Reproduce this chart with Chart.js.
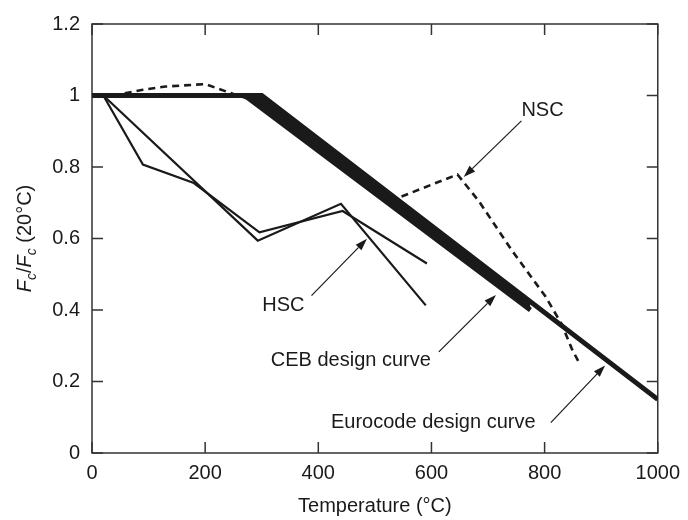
<!DOCTYPE html>
<html>
<head>
<meta charset="utf-8">
<script src="https://cdn.jsdelivr.net/npm/chart.js@4.4.1/dist/chart.umd.min.js"></script>
<style>
    html, body { margin: 0; padding: 0; background: #fff; }
</style>
</head>
<body>
<canvas id="chart" width="688" height="520"></canvas>
<script>
// Relative strength vs temperature
const eurocodeTemp = [0, 300, 1000];
const eurocodeRatio = [1, 1, 0.15];
const cebTemp = [0, 270, 775];
const cebRatio = [1, 1, 0.40];
const nscTemp = [37, 90, 130, 200, 250, 290, 535, 646, 684, 742, 801, 830, 848, 863];
const nscRatio = [1.0, 1.016, 1.025, 1.032, 1.004, 0.985, 0.71, 0.779, 0.704, 0.567, 0.439, 0.361, 0.292, 0.246];
const hscATemp = [20, 90, 180, 296, 443, 592];
const hscARatio = [1.0, 0.807, 0.755, 0.617, 0.677, 0.530];
const hscBTemp = [20, 293, 440, 590];
const hscBRatio = [1.0, 0.594, 0.697, 0.413];

const xTicks = [0, 200, 400, 600, 800, 1000];
const yTicks = [0, 0.2, 0.4, 0.6, 0.8, 1, 1.2];
const yTickLabels = ['0', '0.2', '0.4', '0.6', '0.8', '1', '1.2'];

// callout labels, in data units
const callouts = [
    { text: 'NSC', at: [759, 0.944], align: 'left', from: [759, 0.929], to: [657, 0.772] },
    { text: 'HSC', at: [301, 0.396], align: 'left', from: [388, 0.44], to: [486, 0.599] },
    { text: 'CEB design curve', at: [599, 0.242], align: 'right', from: [613, 0.283], to: [714, 0.442] },
    { text: 'Eurocode design curve', at: [784, 0.071], align: 'right', from: [811, 0.085], to: [907, 0.245] }
];

const ink = '#1a1a1a';
const fontFamily = '"Liberation Sans", Arial, Helvetica, sans-serif';

const toPoints = (xs, ys) => xs.map((x, i) => ({ x: x, y: ys[i] }));

const decorPlugin = {
    id: 'decor',
    beforeDatasetsDraw(chart) {
        const { ctx, chartArea: a, scales: { x, y } } = chart;
        ctx.save();
        ctx.strokeStyle = '#333';
        ctx.lineWidth = 1.5;
        ctx.strokeRect(a.left, a.top, a.right - a.left, a.bottom - a.top);
        ctx.beginPath();
        xTicks.forEach(t => {
            const px = x.getPixelForValue(t);
            ctx.moveTo(px, a.bottom); ctx.lineTo(px, a.bottom - 11);
            ctx.moveTo(px, a.top); ctx.lineTo(px, a.top + 11);
        });
        yTicks.forEach(t => {
            const py = y.getPixelForValue(t);
            ctx.moveTo(a.left, py); ctx.lineTo(a.left + 11, py);
            ctx.moveTo(a.right, py); ctx.lineTo(a.right - 11, py);
        });
        ctx.stroke();
        ctx.restore();
    },
    afterDraw(chart) {
        const { ctx, chartArea: a, scales: { x, y } } = chart;
        ctx.save();
        ctx.fillStyle = ink;
        ctx.strokeStyle = ink;

        // callouts with arrows
        ctx.font = '20px ' + fontFamily;
        ctx.textBaseline = 'alphabetic';
        callouts.forEach(c => {
            ctx.textAlign = c.align;
            ctx.fillText(c.text, x.getPixelForValue(c.at[0]), y.getPixelForValue(c.at[1]));

            const x0 = x.getPixelForValue(c.from[0]), y0 = y.getPixelForValue(c.from[1]);
            const x1 = x.getPixelForValue(c.to[0]), y1 = y.getPixelForValue(c.to[1]);
            const ang = Math.atan2(y1 - y0, x1 - x0);
            const len = 12, half = 4;
            const bx = x1 - len * Math.cos(ang), by = y1 - len * Math.sin(ang);
            ctx.lineWidth = 1.2;
            ctx.beginPath();
            ctx.moveTo(x0, y0);
            ctx.lineTo(bx, by);
            ctx.stroke();
            ctx.beginPath();
            ctx.moveTo(x1, y1);
            ctx.lineTo(bx + half * Math.sin(ang), by - half * Math.cos(ang));
            ctx.lineTo(bx - half * Math.sin(ang), by + half * Math.cos(ang));
            ctx.closePath();
            ctx.fill();
        });

        // y axis title: F_c/F_c (20°C)
        const parts = [
            { t: 'F', font: 'italic 20px ' + fontFamily, dy: 0 },
            { t: 'c', font: 'italic 14px ' + fontFamily, dy: 5 },
            { t: '/', font: '20px ' + fontFamily, dy: 0 },
            { t: 'F', font: 'italic 20px ' + fontFamily, dy: 0 },
            { t: 'c', font: 'italic 14px ' + fontFamily, dy: 5 },
            { t: ' (20°C)', font: '20px ' + fontFamily, dy: 0 }
        ];
        let total = 0;
        parts.forEach(p => { ctx.font = p.font; p.w = ctx.measureText(p.t).width; total += p.w; });
        ctx.translate(31, (a.top + a.bottom) / 2);
        ctx.rotate(-Math.PI / 2);
        ctx.textAlign = 'left';
        let cx = -total / 2;
        parts.forEach(p => {
            ctx.font = p.font;
            ctx.fillText(p.t, cx, p.dy);
            cx += p.w;
        });
        ctx.restore();
    }
};

const tickFont = { family: fontFamily, size: 20 };

new Chart(document.getElementById('chart'), {
    type: 'line',
    data: {
        datasets: [
            {
                label: 'Eurocode design curve',
                data: toPoints(eurocodeTemp, eurocodeRatio),
                borderColor: ink,
                borderWidth: 5,
                borderJoinStyle: 'miter',
                pointRadius: 0,
                fill: false
            },
            {
                label: 'CEB design curve',
                data: toPoints(cebTemp, cebRatio),
                borderColor: ink,
                backgroundColor: ink,
                borderWidth: 5,
                borderJoinStyle: 'miter',
                pointRadius: 0,
                fill: 0
            },
            {
                label: 'NSC',
                data: toPoints(nscTemp, nscRatio),
                borderColor: ink,
                borderWidth: 2.6,
                borderDash: [7, 5],
                pointRadius: 0,
                fill: false
            },
            {
                label: 'HSC (a)',
                data: toPoints(hscATemp, hscARatio),
                borderColor: ink,
                borderWidth: 2.2,
                pointRadius: 0,
                fill: false
            },
            {
                label: 'HSC (b)',
                data: toPoints(hscBTemp, hscBRatio),
                borderColor: ink,
                borderWidth: 2.2,
                pointRadius: 0,
                fill: false
            }
        ]
    },
    options: {
        responsive: false,
        animation: false,
        layout: { padding: { top: 16, right: 29, left: 0, bottom: 0 } },
        plugins: {
            legend: { display: false },
            tooltip: { enabled: false }
        },
        scales: {
            x: {
                type: 'linear',
                min: 0,
                max: 1000,
                afterBuildTicks: scale => { scale.ticks = xTicks.map(v => ({ value: v })); },
                afterFit: scale => { scale.height = 67; },
                grid: { display: false, drawTicks: false },
                border: { display: false },
                ticks: { font: tickFont, color: ink, padding: 8, maxRotation: 0, callback: v => String(v) },
                title: {
                    display: true,
                    text: 'Temperature (°C)',
                    font: tickFont,
                    color: ink,
                    padding: { top: 0, bottom: 2 }
                }
            },
            y: {
                type: 'linear',
                min: 0,
                max: 1.2,
                afterBuildTicks: scale => { scale.ticks = yTicks.map(v => ({ value: v })); },
                afterFit: scale => { scale.width = 92; },
                grid: { display: false, drawTicks: false },
                border: { display: false },
                ticks: { font: tickFont, color: ink, padding: 12, callback: (v, i) => yTickLabels[i] }
            }
        }
    },
    plugins: [decorPlugin]
});
</script>
</body>
</html>
